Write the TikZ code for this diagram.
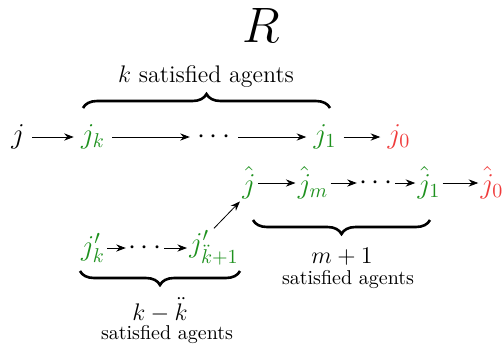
\documentclass[tikz,border=0pt]{standalone}
\usetikzlibrary{arrows.meta,decorations.pathreplacing}

\definecolor{agentgreen}{RGB}{30,145,30}
\definecolor{agentred}{RGB}{240,60,60}

\begin{document}
\begin{tikzpicture}[x=0.5pt,y=0.5pt,>=Stealth,every node/.style={inner sep=1pt,font=\Large},
  sat/.style={text=agentgreen},
  done/.style={text=agentred},
  loose/.style={inner sep=3.5pt},
  brace/.style={decorate,decoration={brace,amplitude=7pt},line width=1.3pt}]
\useasboundingbox (0,0) rectangle (504,-350);
\node[font=\Huge] (title) at (261,-25) {$R$};
% first chain
\node[loose] (j) at (18,-137) {$j$};
\node[loose,sat] (jk) at (93,-137) {$j_k$};
\node[loose] (dA) at (214,-137) {$\cdots$};
\node[loose,sat] (j1) at (325,-137) {$j_1$};
\node[loose,done] (j0) at (399,-137) {$j_0$};
\draw[->] (j) -- (jk);
\draw[->] (jk) -- (dA);
\draw[->] (dA) -- (j1);
\draw[->] (j1) -- (j0);
\draw[brace] (83,-108) -- (330,-108);
\node[font=\large] (lab1) at (206,-77) {$k$ satisfied agents};
% hat chain
\node[sat] (jh) at (249,-183) {$\hat{j}$};
\node[sat] (jhm) at (313,-183) {$\hat{j}_m$};
\node (dB) at (376,-183) {$\cdots$};
\node[sat] (jh1) at (429,-183) {$\hat{j}_1$};
\node[done] (jh0) at (492,-183) {$\hat{j}_0$};
\draw[->] (jh) -- (jhm);
\draw[->] (jhm) -- (dB);
\draw[->] (dB) -- (jh1);
\draw[->] (jh1) -- (jh0);
\draw[brace] (430,-220) -- (253,-220);
\node[font=\large] (lab2) at (342,-257) {$m+1$};
\node[font=\normalsize] (lab2b) at (348,-280) {satisfied agents};
% primed chain
\node[sat] (jp) at (93,-248) {$j'_k$};
\node (dC) at (145,-248) {$\cdots$};
\node[sat] (jpk) at (214,-248) {$j'_{\ddot{k}+1}$};
\draw[->] (jp) -- (dC);
\draw[->] (dC) -- (jpk);
\draw[->] (jpk.north) -- (jh.south west);
\draw[brace] (240,-271) -- (80,-271);
\node[font=\large] (lab3) at (160,-310) {$k-\ddot{k}$};
\node[font=\normalsize] (lab3b) at (167,-334) {satisfied agents};
\end{tikzpicture}
\end{document}
